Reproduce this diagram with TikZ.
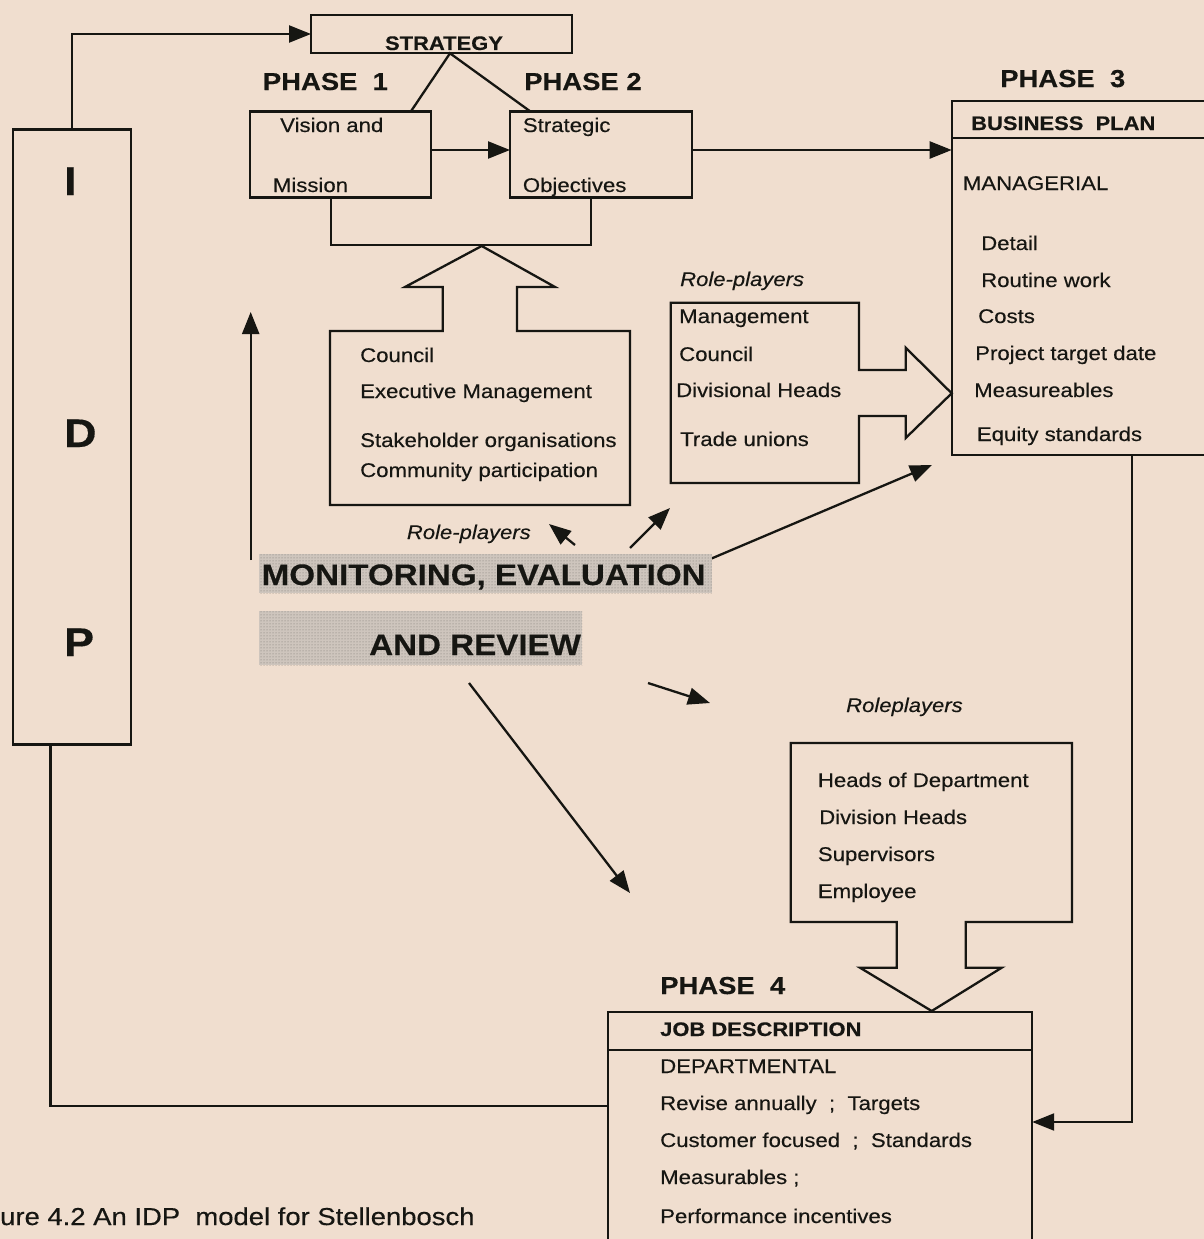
\documentclass[tikz,border=0pt]{standalone}
\usepackage{fontspec}
\setmainfont{Liberation Sans}[FakeStretch=1.12,FakeBold=0.35]
\usetikzlibrary{arrows.meta,patterns}
\definecolor{paper}{RGB}{240,222,207}
\definecolor{ink}{RGB}{22,22,18}
\definecolor{stipple}{RGB}{206,197,189}
\definecolor{stippledot}{RGB}{120,115,110}
\tikzset{
  frame/.style={draw=ink, line width=2.3pt, inner sep=0pt, outer sep=0pt},
  link/.style={draw=ink, line width=2.3pt},
  arr/.style={link, -{Triangle[length=22pt,width=17pt]}},
  plain/.style={anchor=base west, inner sep=0pt, text=ink, font=\fontsize{19.8}{24}\selectfont},
  role/.style={anchor=base west, inner sep=0pt, text=ink, font=\itshape\fontsize{19.7}{24}\selectfont},
  head/.style={anchor=base west, inner sep=0pt, text=ink, font=\bfseries\fontsize{19.6}{24}\selectfont},
  phase/.style={anchor=base west, inner sep=0pt, text=ink, font=\bfseries\fontsize{24.5}{28}\selectfont},
  banner/.style={anchor=base west, inner sep=0pt, text=ink, font=\bfseries\fontsize{29.6}{34}\selectfont},
  letter/.style={anchor=base west, inner sep=0pt, text=ink, font=\bfseries\fontsize{40}{44}\selectfont},
  caption/.style={anchor=base west, inner sep=0pt, text=ink, font=\fontsize{24.5}{28}\selectfont}
}
\begin{document}
\begin{tikzpicture}[x=1pt,y=-1pt]
% page
\fill[paper] (0,0) rectangle (1204,1239);
\clip (0,0) rectangle (1204,1239);

% ---------- boxes ----------
\node[frame, minimum width=261pt, minimum height=38pt] (strategy) at (441.5,34) {};
\node[frame, minimum width=181pt, minimum height=86pt] (vision) at (340.5,154.5) {};
\node[frame, minimum width=182pt, minimum height=86pt] (strategic) at (601,154.5) {};
\node[frame, minimum width=118pt, minimum height=615pt] (idp) at (71.7,437) {};
\node[frame, minimum width=278pt, minimum height=354pt] (bp) at (1090.7,277.8) {};
\node[frame, minimum width=424pt, minimum height=248pt] (job) at (820.2,1136) {};
\draw[link] (bp.west |- 0,138) -- (bp.east |- 0,138);
\draw[link] (job.west |- 0,1050) -- (job.east |- 0,1050);

% ---------- block arrows with their lists ----------
% council group, arrow pointing up
\draw[frame, line join=miter] (330,331) -- (442.7,331) -- (442.7,287) -- (405,287)
  -- (481.7,246) -- (555,287) -- (517,287) -- (517,331) -- (630,331)
  -- (630,505) -- (330,505) -- cycle;
% management group, arrow pointing right
\draw[frame, line join=miter] (670.7,302.7) -- (859,302.7) -- (859,370) -- (905.7,370)
  -- (905.7,347.7) -- (951.7,393.3) -- (905.7,438) -- (905.7,416) -- (859,416)
  -- (859,483) -- (670.7,483) -- cycle;
% heads group, arrow pointing down
\draw[frame, line join=miter] (790.7,743) -- (1072,743) -- (1072,922) -- (965.7,922)
  -- (965.7,967.7) -- (1001.7,967.7) -- (931.7,1011) -- (860,967.7) -- (896.7,967.7)
  -- (896.7,922) -- (790.7,922) -- cycle;

% ---------- connectors ----------
\coordinate (apex) at (450,53.3);
\coordinate (visTop) at (410.7,111.7);
\coordinate (strTop) at (530.7,111.7);
\coordinate (row150) at (0,150);
\coordinate (brL) at (330.7,197.5);
\coordinate (brR) at (590.7,197.5);
\coordinate (row245) at (0,245);
\coordinate (bpOut) at (1132,455);
\coordinate (row1122) at (0,1122);
\coordinate (row1106) at (0,1106);
\coordinate (idpOut) at (50.6,744);

\draw[link] (visTop) -- (apex) -- (strTop);
\draw[arr] (idp.north) |- (strategy.west);
\draw[arr] (vision.east |- row150) -- (strategic.west |- row150);
\draw[arr] (strategic.east |- row150) -- (bp.west |- row150);
\draw[link] (brL) -- (brL |- row245) -- (brR |- row245) -- (brR);
\draw[arr] (bpOut) |- (job.east |- row1122);
\draw[link] (idpOut) |- (job.west |- row1106);

% monitoring arrows
\coordinate (upFrom) at (250.7,560);
\coordinate (upTo) at (250.7,312);
\coordinate (a1From) at (575,545);
\coordinate (a1To) at (549,524);
\coordinate (a2From) at (630,548);
\coordinate (a2To) at (670,508);
\coordinate (a3From) at (708,560);
\coordinate (a3To) at (932,465);
\coordinate (a4From) at (469,683);
\coordinate (a4To) at (630,893);
\coordinate (a5From) at (648,683);
\coordinate (a5To) at (710,703);
\draw[arr] (upFrom) -- (upTo);
\draw[arr] (a1From) -- (a1To);
\draw[arr] (a2From) -- (a2To);
\draw[arr] (a3From) -- (a3To);
\draw[arr] (a4From) -- (a4To);
\draw[arr] (a5From) -- (a5To);

% ---------- shaded banner ----------
\fill[stipple] (259,554) rectangle (712,593);
\fill[stipple] (259,611) rectangle (582,665);
\fill[pattern=dots, pattern color=stippledot] (259,554) rectangle (712,593);
\fill[pattern=dots, pattern color=stippledot] (259,611) rectangle (582,665);
\node[banner] (mon1) at (261.5,585) {MONITORING, EVALUATION};
\node[banner] (mon2) at (369,655) {AND REVIEW};

% ---------- texts ----------
\node[head, anchor=base] (tStrategy) at (444,50) {STRATEGY};
\node[phase] (ph1) at (262.7,90) {PHASE\ \ 1};
\node[phase] (ph2) at (524,90) {PHASE 2};
\node[phase] (ph3) at (1000,87) {PHASE\ \ 3};
\node[phase] (ph4) at (660,994) {PHASE\ \ 4};

\node[plain] (t1) at (280,132) {Vision and};
\node[plain] (t2) at (272.7,192) {Mission};
\node[plain] (t3) at (522.7,132) {Strategic};
\node[plain] (t4) at (522.7,192) {Objectives};

\node[head] (bpTitle) at (971,130) {BUSINESS\ \ PLAN};
\node[plain] (bp1) at (962.7,190) {MANAGERIAL};
\node[plain] (bp2) at (981,250) {Detail};
\node[plain] (bp3) at (981,287) {Routine work};
\node[plain] (bp4) at (978,323) {Costs};
\node[plain] (bp5) at (975,360) {Project target date};
\node[plain] (bp6) at (974,397) {Measureables};
\node[plain] (bp7) at (976.7,441) {Equity standards};

\node[plain] (c1) at (360,362) {Council};
\node[plain] (c2) at (360,398) {Executive Management};
\node[plain] (c3) at (360,447) {Stakeholder organisations};
\node[plain] (c4) at (360,477) {Community participation};

\node[role] (r1) at (680,286) {Role-players};
\node[plain] (m1) at (679,323) {Management};
\node[plain] (m2) at (679,361) {Council};
\node[plain] (m3) at (676,397) {Divisional Heads};
\node[plain] (m4) at (680,446) {Trade unions};

\node[role] (r2) at (406.7,539) {Role-players};
\node[role] (r3) at (846,712) {Roleplayers};

\node[plain] (h1) at (817.7,787) {Heads of Department};
\node[plain] (h2) at (819,824) {Division Heads};
\node[plain] (h3) at (817.7,861) {Supervisors};
\node[plain] (h4) at (817.7,898) {Employee};

\node[head] (jobTitle) at (660,1036) {JOB DESCRIPTION};
\node[plain] (j1) at (660,1073) {DEPARTMENTAL};
\node[plain] (j2) at (660,1110) {Revise annually\ \ ;\ \ Targets};
\node[plain] (j3) at (660,1147) {Customer focused\ \ ;\ \ Standards};
\node[plain] (j4) at (660,1184) {Measurables ;};
\node[plain] (j5) at (660,1223) {Performance incentives};

\node[letter] (lI) at (64,195) {I};
\node[letter] (lD) at (64,447) {D};
\node[letter] (lP) at (64,656) {P};

\node[caption] (cap) at (0,1225) {ure 4.2 An IDP\ \ model for Stellenbosch};
\end{tikzpicture}
\end{document}
